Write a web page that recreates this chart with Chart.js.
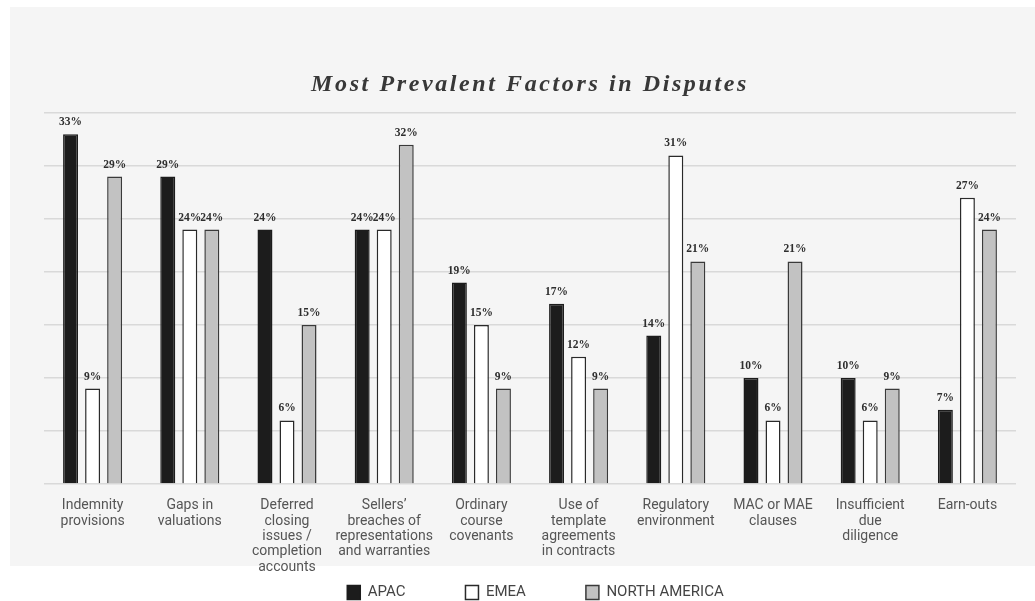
<!DOCTYPE html>
<html>
<head>
<meta charset="utf-8">
<script src="https://cdn.jsdelivr.net/npm/chart.js@4.4.1/dist/chart.umd.min.js"></script>
<style>
  html, body { margin: 0; padding: 0; background: #ffffff; }
  #wrap { width: 1035px; height: 601px; position: relative; }
</style>
</head>
<body>
<div id="wrap"><canvas id="c" width="1035" height="601"></canvas></div>
<script>
const categories = [
  ["Indemnity", "provisions"],
  ["Gaps in", "valuations"],
  ["Deferred", "closing", "issues /", "completion", "accounts"],
  ["Sellers\u2019", "breaches of", "representations", "and warranties"],
  ["Ordinary", "course", "covenants"],
  ["Use of", "template", "agreements", "in contracts"],
  ["Regulatory", "environment"],
  ["MAC or MAE", "clauses"],
  ["Insufficient", "due", "diligence"],
  ["Earn-outs"]
];
const seriesNames = ["APAC", "EMEA", "NORTH AMERICA"];
const apac = [33, 29, 24, 24, 19, 17, 14, 10, 10, 7];
const emea = [9, 24, 6, 24, 15, 12, 31, 6, 6, 27];
const northAmerica = [29, 24, 15, 32, 9, 9, 21, 21, 9, 24];
const yTicks = [0, 5, 10, 15, 20, 25, 30, 35];
const chartTitle = "Most Prevalent Factors in Disputes";

const panelPlugin = {
  id: 'panel',
  afterLayout(chart) {
    const lg = chart.legend;
    if (lg) {
      lg.top = 525;
      lg.bottom = 601;
      lg.left = 36;
      lg.right = 1035;
    }
  },
  beforeDraw(chart) {
    const ctx = chart.ctx;
    ctx.save();
    ctx.fillStyle = '#ffffff';
    ctx.fillRect(0, 0, chart.width, chart.height);
    ctx.fillStyle = '#f5f5f5';
    ctx.fillRect(10, 7, chart.width - 10, 559);
    ctx.restore();
  }
};

const titlePlugin = {
  id: 'customTitle',
  afterDraw(chart) {
    const ctx = chart.ctx;
    const area = chart.chartArea;
    ctx.save();
    ctx.font = 'italic bold 24px "Liberation Serif"';
    if ('letterSpacing' in ctx) ctx.letterSpacing = '2.6px';
    ctx.fillStyle = '#383838';
    ctx.textAlign = 'center';
    ctx.textBaseline = 'middle';
    ctx.fillText(chartTitle, (area.left + area.right) / 2, 85);
    ctx.restore();
  }
};

const valueLabelPlugin = {
  id: 'valueLabels',
  afterDatasetsDraw(chart) {
    const ctx = chart.ctx;
    ctx.save();
    ctx.font = 'bold 11.5px "Liberation Serif"';
    ctx.fillStyle = '#2e2e2e';
    ctx.textAlign = 'center';
    ctx.textBaseline = 'alphabetic';
    chart.data.datasets.forEach((ds, di) => {
      const meta = chart.getDatasetMeta(di);
      meta.data.forEach((el, i) => {
        ctx.fillText(ds.data[i] + '%', el.x, el.y - 9);
      });
    });
    ctx.restore();
  }
};

new Chart(document.getElementById('c'), {
  type: 'bar',
  data: {
    labels: categories,
    datasets: [
      { label: seriesNames[0], data: apac, backgroundColor: '#1c1c1c', borderColor: '#1c1c1c', borderWidth: 1.5 },
      { label: seriesNames[1], data: emea, backgroundColor: '#ffffff', borderColor: '#2a2a2a', borderWidth: 1.5 },
      { label: seriesNames[2], data: northAmerica, backgroundColor: '#c2c2c2', borderColor: '#3a3a3a', borderWidth: 1.5 }
    ]
  },
  options: {
    responsive: false,
    animation: false,
    devicePixelRatio: 1,
    layout: { padding: { top: 113, right: 19, left: 0, bottom: 0 } },
    datasets: { bar: { categoryPercentage: 0.68, barPercentage: 0.68 } },
    plugins: {
      title: { display: false },
      tooltip: { enabled: false },
      legend: {
        position: 'bottom',
        maxHeight: 25,
        labels: {
          font: { family: 'Roboto', size: 15 },
          color: '#444444',
          boxWidth: 13,
          boxHeight: 14,
          padding: 60
        }
      }
    },
    scales: {
      x: {
        grid: { display: false, drawTicks: false },
        border: { display: false },
        ticks: {
          autoSkip: false,
          maxRotation: 0,
          minRotation: 0,
          padding: 14,
          color: '#555555',
          font: { family: 'Roboto', size: 14, lineHeight: 1.1 }
        },
        afterFit(scale) { scale.height = 92; }
      },
      y: {
        min: 0,
        max: 35,
        afterBuildTicks(scale) { scale.ticks = yTicks.map(v => ({ value: v })); },
        grid: { color: '#d9d9d9', lineWidth: 1.5, drawTicks: false },
        border: { display: false },
        ticks: { display: false },
        afterFit(scale) { scale.width = 44; }
      }
    }
  },
  plugins: [panelPlugin, titlePlugin, valueLabelPlugin]
});
</script>
</body>
</html>
